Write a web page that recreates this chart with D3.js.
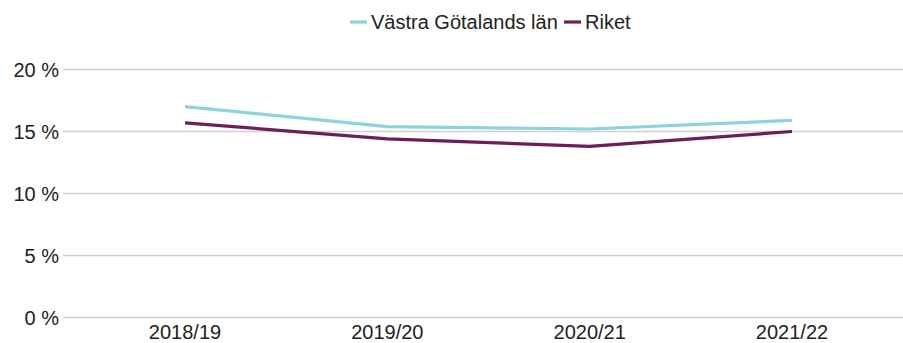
<!DOCTYPE html>
<html>
<head>
<meta charset="utf-8">
<script src="https://cdn.jsdelivr.net/npm/d3@7/dist/d3.min.js"></script>
<style>
  html, body { margin: 0; padding: 0; background: #fff; }
  svg { display: block; font-family: "Liberation Sans", Arial, sans-serif; }
</style>
</head>
<body>
<svg id="chart" width="903" height="343"></svg>
<script>
// Andel (%) per läsår
const categories = ["2018/19", "2019/20", "2020/21", "2021/22"];
const seriesNames = ["Västra Götalands län", "Riket"];
const vastraGotaland = [17.0, 15.4, 15.2, 15.9];
const riket = [15.7, 14.4, 13.8, 15.0];
const yTicks = [0, 5, 10, 15, 20];
const colors = ["#8dd2dd", "#6b1e58"];

const width = 903, height = 343;
const svg = d3.select("#chart");

const gridLeft = 63, gridRight = 903;
const x = d3.scalePoint().domain(categories).range([185, 792]);
const y = d3.scaleLinear().domain([0, 20]).range([317.5, 69.5]);

// Horisontella stödlinjer
svg.append("g")
  .selectAll("line")
  .data(yTicks)
  .join("line")
  .attr("x1", gridLeft).attr("x2", gridRight)
  .attr("y1", d => y(d)).attr("y2", d => y(d))
  .attr("stroke", "#d0d0d0")
  .attr("stroke-width", 1.5);

// Y-axelns etiketter
svg.append("g")
  .selectAll("text")
  .data(yTicks)
  .join("text")
  .attr("x", 59)
  .attr("y", d => y(d))
  .attr("dy", "0.36em")
  .attr("text-anchor", "end")
  .attr("font-size", 20)
  .attr("fill", "#222")
  .text(d => d + " %");

// X-axelns etiketter
svg.append("g")
  .selectAll("text")
  .data(categories)
  .join("text")
  .attr("x", d => x(d))
  .attr("y", 339)
  .attr("text-anchor", "middle")
  .attr("font-size", 20)
  .attr("fill", "#222")
  .text(d => d);

// Linjer
const line = d3.line()
  .x((d, i) => x(categories[i]))
  .y(d => y(d));

[vastraGotaland, riket].forEach((values, i) => {
  svg.append("path")
    .datum(values)
    .attr("d", line)
    .attr("fill", "none")
    .attr("stroke", colors[i])
    .attr("stroke-width", 3.2)
    .attr("stroke-linejoin", "round");
});

// Teckenförklaring
const legend = svg.append("g").attr("transform", "translate(0,22)");
const legendX = [350, 564];
seriesNames.forEach((name, i) => {
  const g = legend.append("g").attr("transform", `translate(${legendX[i]},0)`);
  g.append("line")
    .attr("x1", 0).attr("x2", 17)
    .attr("y1", 0).attr("y2", 0)
    .attr("stroke", colors[i])
    .attr("stroke-width", 3.2);
  g.append("text")
    .attr("x", 21)
    .attr("y", 0)
    .attr("dy", "0.36em")
    .attr("font-size", 20)
    .attr("fill", "#222")
    .text(name);
});
</script>
</body>
</html>
